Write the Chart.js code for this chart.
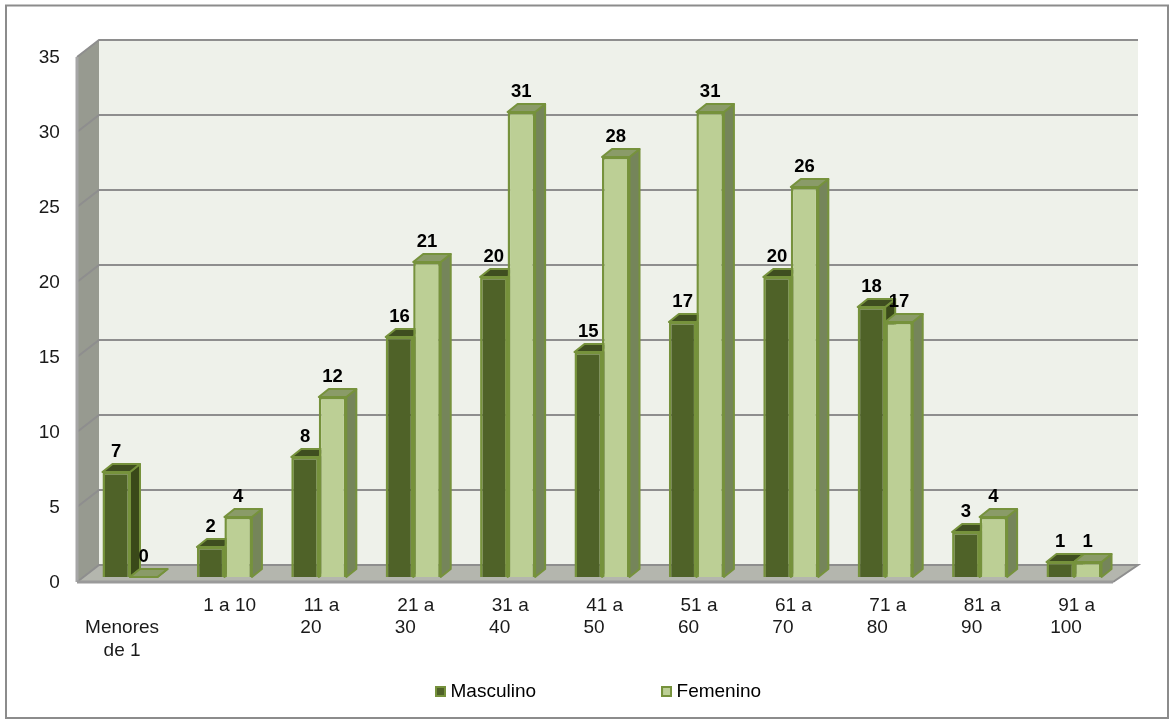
<!DOCTYPE html>
<html><head><meta charset="utf-8">
<style>html,body{margin:0;padding:0;background:#fff}canvas{display:block}</style>
<script src="https://cdn.jsdelivr.net/npm/chart.js@4"></script>
</head><body><canvas id="c" width="1175" height="725"></canvas>
<script>
const categories = ['Menores de 1','1 a 10','11 a 20','21 a 30','31 a 40','41 a 50','51 a 60','61 a 70','71 a 80','81 a 90','91 a 100'];
const masculino = [7,2,8,16,20,15,17,20,18,3,1];
const femenino  = [0,4,12,21,31,28,31,26,17,4,1];
const yTicks = [0,5,10,15,20,25,30,35];

const FONT = 'Arial, "Liberation Sans", sans-serif';
const GREEN = '#76923C';
const MASC = '#4F6228', FEM = '#BCCF95';
const faces = [
  {top:'#3F4E20', side:'#3A4919'},
  {top:'#8A9B68', side:'#75855A'}
];
const DX = 10, DY = 8;

function poly(ctx, pts, fill, stroke, lw){
  ctx.beginPath();
  pts.forEach((p,i)=> i?ctx.lineTo(p[0],p[1]):ctx.moveTo(p[0],p[1]));
  ctx.closePath();
  if(fill){ctx.fillStyle=fill;ctx.fill();}
  if(stroke){ctx.strokeStyle=stroke;ctx.lineWidth=lw||1;ctx.lineJoin='round';ctx.stroke();}
}
function swatch(fill){
  const c = document.createElement('canvas');
  c.width = 11; c.height = 11;
  const g = c.getContext('2d');
  g.fillStyle = GREEN; g.fillRect(0,0,11,11);
  g.fillStyle = fill; g.fillRect(2,2,7,7);
  return c;
}
function extrude(chart, index){
  const ctx = chart.ctx, f = faces[index];
  ctx.save();
  chart.getDatasetMeta(index).data.forEach(b=>{
    const l=b.x-b.width/2, r=b.x+b.width/2, t=b.y, bt=b.base;
    poly(ctx,[[r,t],[r+DX,t-DY],[r+DX,bt-DY],[r,bt]],f.side,GREEN,2);
    poly(ctx,[[l,t],[l+DX,t-DY],[r+DX,t-DY],[r,t]],f.top,GREEN,2);
  });
  ctx.restore();
}

const scene = {
  id:'scene',
  afterLayout(chart){
    const l = chart.legend;
    l.left = 310; l.right = 1175; l.top = 552; l.bottom = 725;
  },
  beforeDatasetsDraw(chart){
    const ctx = chart.ctx, x = chart.scales.x, y = chart.scales.y;
    ctx.save();
    ctx.strokeStyle='#8C8C8C'; ctx.lineWidth=2;
    ctx.strokeRect(6,5.5,1162,712.5);
    const y0 = y.getPixelForValue(0), yT = y.getPixelForValue(35);
    const fl = x.left-5.8, bl = x.left+16.2, br = x.right+16.8, fr = x.right-8.2;
    const fBot = y0+5, bBot = y0-12, fTop = yT+5, bTop = yT-12;
    poly(ctx,[[bl,bTop],[br,bTop],[br,bBot],[bl,bBot]],'#EEF1EA');
    poly(ctx,[[fl,fTop],[bl,bTop],[bl,bBot],[fl,fBot]],'#979A90');
    poly(ctx,[[fl,fBot],[bl,bBot],[br,bBot],[fr,fBot]],'#B4B6AE');
    ctx.lineWidth=2; ctx.strokeStyle='#8E8E8E';
    yTicks.forEach(v=>{
      const py = y.getPixelForValue(v);
      ctx.beginPath();
      ctx.moveTo(fl,py+5); ctx.lineTo(bl,py-12); ctx.lineTo(br,py-12);
      if(v===0){ctx.lineTo(fr,py+5);}
      ctx.stroke();
    });
    ctx.strokeStyle='#A6A6A6'; ctx.lineWidth=3;
    ctx.beginPath(); ctx.moveTo(fl,fTop); ctx.lineTo(fl,fBot); ctx.stroke();
    ctx.strokeStyle='#9A9A9A';
    ctx.beginPath(); ctx.moveTo(fl,fBot); ctx.lineTo(fr,fBot); ctx.stroke();
    ctx.restore();
  },
  // Femenino must sit in front of Masculino's side face, so it is drawn second.
  beforeDatasetDraw(chart,args){
    if(args.index===1) return false;
    extrude(chart,0);
  },
  afterDatasetDraw(chart,args){
    if(args.index!==0) return;
    extrude(chart,1);
    chart.getDatasetMeta(1).controller.draw();
  },
  afterDatasetsDraw(chart){
    const ctx = chart.ctx;
    ctx.save();
    ctx.font = 'bold 18.5px '+FONT;
    ctx.fillStyle='#000'; ctx.textAlign='center'; ctx.textBaseline='middle';
    chart.data.datasets.forEach((ds,di)=>{
      chart.getDatasetMeta(di).data.forEach((b,i)=>{
        ctx.fillText(String(ds.data[i]), b.x, b.y-20);
      });
    });
    ctx.restore();
  }
};

function tickLines(label){
  if(label==='Menores de 1') return ['', 'Menores   ', 'de 1   '];
  if(label==='1 a 10') return ['  1 a 10'];
  const w = label.split(' ');
  return [' '+w.slice(0,2).join(' '), w[2]+'   '];
}

new Chart(document.getElementById('c'),{
  type:'bar',
  data:{labels:categories,datasets:[
    {label:'Masculino',data:masculino,backgroundColor:MASC,borderColor:GREEN,borderWidth:2.5,
     categoryPercentage:0.583,barPercentage:1},
    {label:'Femenino',data:femenino,backgroundColor:FEM,borderColor:GREEN,borderWidth:2.5,
     categoryPercentage:0.583,barPercentage:1}
  ]},
  plugins:[scene],
  options:{
    responsive:false,animation:false,
    layout:{autoPadding:false,padding:{left:0,top:52,right:53.8,bottom:0}},
    plugins:{
      tooltip:{enabled:false},
      legend:{position:'bottom',align:'start',maxHeight:1,
        labels:{usePointStyle:true,pointStyleWidth:1,boxHeight:11,padding:130,color:'#000',font:{family:FONT,size:19},
          generateLabels(chart){
            return chart.data.datasets.map((d,i)=>({text:d.label,fillStyle:d.backgroundColor,
              pointStyle:swatch(d.backgroundColor),strokeStyle:GREEN,lineWidth:0,datasetIndex:i}));
          }}}
    },
    scales:{
      x:{grid:{display:false,drawTicks:false},border:{display:false},
        afterFit(s){s.height=147;},
        ticks:{autoSkip:false,maxRotation:0,minRotation:0,padding:17,color:'#1a1a1a',
          font:{family:FONT,size:19,lineHeight:1.19},
          callback(v){return tickLines(categories[v]);}}},
      y:{min:0,max:35,grid:{display:false,drawTicks:false},border:{display:false},
        afterFit(s){s.width=82.8;},
        ticks:{stepSize:5,padding:23,labelOffset:6,color:'#1a1a1a',
          font:{family:FONT,size:19}}}
    }
  }
});
</script></body></html>
